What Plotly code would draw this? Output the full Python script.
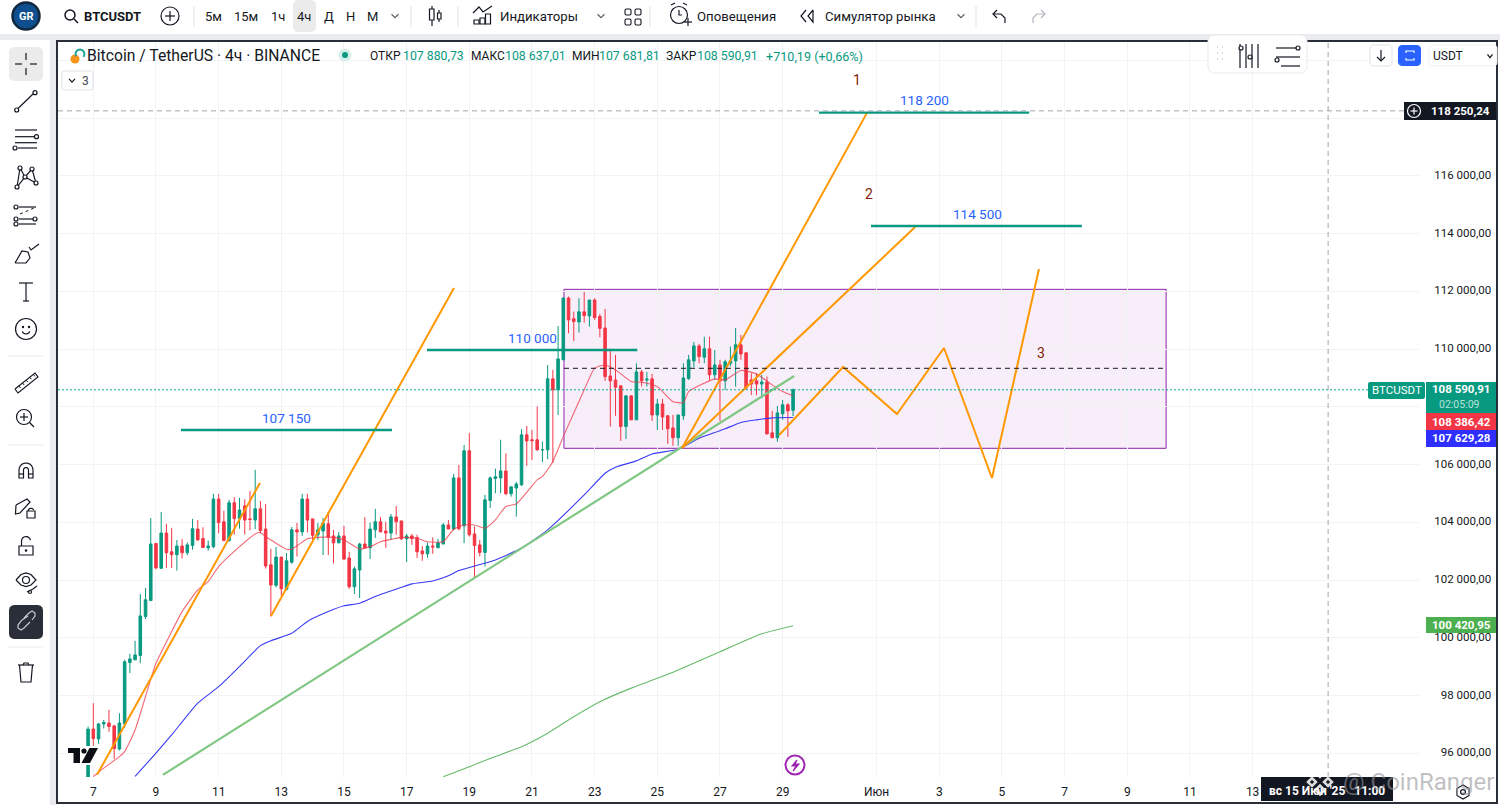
import math
import pandas as pd
import plotly.graph_objects as go

# ---------- data ----------
START = "2025-05-06 20:00"
opens = [94850,96840,96500,97020,97050,96950,96150,97020,99150,99240,99390,100740,101290,103270,102410,103630,102980,102880,103180,102950,
103200,103770,103440,103120,103160,104810,104020,103370,104680,104130,104570,104120,104080,104470,103770,102530,101820,102800,101680,102620,
103740,103670,104810,104120,103570,103700,103950,103530,103290,103530,102770,101770,102350,103250,103120,103740,104020,103700,103630,104190,
104050,103430,103530,103470,103010,102910,103180,103120,103250,103910,103770,105540,103880,106480,103600,103220,102960,104760,105520,105540,
105780,104990,105190,105300,107030,106860,106860,106510,106510,108970,108590,109630,111770,111050,110940,111290,111150,111700,111130,110730,
109070,108930,108730,107320,108380,107550,109210,108930,108970,107720,108100,107690,107270,106930,107690,108980,109590,110110,109720,110010,
109110,109450,108900,109510,109590,110150,109870,108930,108900,108790,108860,107100,106930,107760,108070,107880.73]
highs = [96930,97740,97050,97160,97510,96990,97390,99240,99450,99900,101520,101730,104150,103280,104360,103950,103810,103390,103420,103300,
104120,104080,103830,103370,104990,104990,104400,104780,104870,104850,104800,105090,105820,104740,104640,103080,103150,102800,102940,103840,
103980,104990,104990,104120,103980,104150,104360,103740,103670,103880,102980,102470,103290,104180,103990,104470,104180,104020,104290,104570,
104050,103600,103600,103570,103180,103300,103480,103430,103980,104080,105680,105990,106680,107090,103860,103390,104950,105590,105860,106860,
106390,105240,105400,107230,107340,107200,108010,106800,109450,109280,110800,111770,111820,111300,111760,111980,111700,111760,111220,111390,
110010,109800,108730,108410,108410,109510,109280,109210,109140,108280,108280,107720,107720,107720,109510,109800,110250,110180,110430,110430,
109970,109630,109630,110090,110730,110490,109900,109160,109160,109110,109050,107860,108030,108240,108130,108637.01]
lows = [94790,96260,96330,96860,96750,95800,96100,96880,98780,99240,99120,100650,101290,102380,102400,102420,102420,102330,102750,102860,
103050,103370,103120,103020,103100,103620,103350,103330,103580,103780,103580,103720,103770,103620,102400,100740,101750,101450,101640,102560,
102820,103530,103650,103390,103390,102870,102870,102580,103280,102700,101700,101520,101380,103090,102730,103460,103670,103120,103390,103570,
103390,102630,103220,102770,102670,102770,102910,103120,103250,103770,103720,103720,103280,103510,102080,102820,102470,104500,105010,105010,
104940,104890,104200,105260,105960,106160,106490,106090,106190,106050,107720,109630,110550,110280,110570,110920,110780,111010,110410,108900,
107320,107690,106820,106890,107550,107550,108700,108700,107510,107200,107200,106720,106650,106650,107550,108930,109370,109510,109510,108930,
108930,107510,108590,109400,108700,109630,108590,108410,108410,108300,107060,106930,106790,107550,106960,107681.81]
closes = [96840,96510,97020,97070,96930,96170,97050,99170,99270,99410,100760,101320,103250,102420,103630,102950,102880,103180,102950,103220,
103780,103390,103130,103180,104810,103990,103370,104680,104130,104430,104080,104100,104470,103720,102490,101830,102800,101700,102670,103740,
103670,104810,104080,103550,103740,103970,103480,103290,103530,102730,101770,102390,103250,103120,103770,104020,103670,103630,104190,104020,
103430,103530,103440,102980,102910,103180,103150,103290,103910,103770,105540,103780,106480,103570,103200,102960,104780,105540,105580,105780,
104990,105230,105330,107030,106820,106830,106510,106520,108970,108590,109660,111770,111010,110950,111290,111160,111700,111090,110720,109050,
108900,108680,107320,108380,107550,109210,108900,108960,107720,108100,107650,107240,106930,107720,109000,109630,110110,109740,110010,109110,
109450,108900,109560,109590,110150,109830,108660,108790,108790,108860,107060,106930,107790,108070,107860,108590.91]

red_ma_idx = [1,3,6,7,9,11,13,16,18,21,23,25,29,32,33,34,38,39,42,44,47,49,52,54,56,58,60,63,65,68,70,72,74,76,78,80,82,86,87,89,91,95,97,99,101,104,106,109,112,114,115,118,120,122,125,128,131,133,135]
red_ma = [95200,95490,95890,96060,96810,97970,99120,100220,100910,101660,101950,102470,103160,103600,103650,103510,103070,103070,103430,103480,103480,103390,103080,103160,103330,103410,103480,103450,103330,103330,103760,103910,103910,103800,104090,104550,104640,105470,105590,106110,106970,108590,109340,109450,109280,108880,108850,108700,108180,108150,108530,108820,108970,108930,109260,109140,108760,108530,108386.42]
blue_ma_idx = [9,13,16,21,25,29,33,35,39,42,46,49,52,55,60,62,66,69,71,78,83,88,95,99,101,105,108,113,117,120,122,125,128,131,135]
blue_ma = [95200,96010,96640,97740,98310,99010,99730,99900,100160,100570,100910,101110,101200,101430,101750,101870,101970,102150,102330,102700,103110,103740,104950,105700,105910,106130,106370,106530,106910,107110,107240,107460,107550,107620,107629.28]
green_ma_idx = [68,73,78,83,88,93,98,104,109,113,121,129,135]
green_ma = [95190,95540,95890,96230,96700,97270,97790,98260,98600,98890,99520,100140,100420.95]

orange_a_t = ["2025-05-07 02:50","2025-05-12 07:40"]; orange_a_p = [95257,105367]
orange_b_t = ["2025-05-12 16:05","2025-05-18 12:15"]; orange_b_p = [100757,112116]
orange_c_t = ["2025-05-25 19:00","2025-05-31 16:35"]; orange_c_p = [106575,118180]
orange_d_t = ["2025-05-25 19:00","2025-06-02 05:30"]; orange_d_p = [106575,114228]
zig_t = ["2025-05-28 21:20","2025-05-30 22:20","2025-06-01 15:35","2025-06-03 03:35","2025-06-04 16:20","2025-06-06 04:20"]
zig_p = [107025,109380,107752,110038,105536,112774]
trend_t = ["2025-05-09 05:20","2025-05-29 08:50"]; trend_p = [95257,109068]
levels = [("2025-05-09 19:10","2025-05-16 12:45",107198),
          ("2025-05-17 15:35","2025-05-24 08:40",109970),
          ("2025-05-30 03:50","2025-06-05 20:50",118190),
          ("2025-05-31 19:40","2025-06-07 13:10",114263)]
box_t = ["2025-05-22 00:30","2025-06-10 05:45"]; box_p = [106565,112070]; box_mid = 109335
last_price = 108590.91
cross_price = 118250.24
cross_time = "2025-06-15 09:50"

x_tick_dates = ["2025-05-07","2025-05-09","2025-05-11","2025-05-13","2025-05-15","2025-05-17","2025-05-19","2025-05-21","2025-05-23","2025-05-25","2025-05-27","2025-05-29","2025-06-01","2025-06-03","2025-06-05","2025-06-07","2025-06-09","2025-06-11","2025-06-13"]
x_tick_text = ["7","9","11","13","15","17","19","21","23","25","27","29","Июн","3","5","7","9","11","13"]
y_tick_vals = [96000,98000,100000,102000,104000,106000,108000,110000,112000,114000,116000,118000,120000]
y_tick_text = ["\u200796 000,00","\u200798 000,00","100 000,00","102 000,00","104 000,00","106 000,00","108 000,00","110 000,00","112 000,00","114 000,00","116 000,00","",""]

# ---------- figure ----------
times = pd.date_range(START, periods=len(opens), freq="4h")
UP, DOWN = "#089981", "#F23645"
FONT = "Roboto"
INK = "#131722"
L, R, T, B = 58, 1419, 42, 777
PX = lambda x: (x - L) / (R - L)
PY = lambda y: (B - y) / (B - T)

fig = go.Figure()
fig.add_trace(go.Candlestick(x=times, open=opens, high=highs, low=lows, close=closes,
    increasing=dict(line=dict(color=UP, width=1), fillcolor=UP),
    decreasing=dict(line=dict(color=DOWN, width=1), fillcolor=DOWN),
    whiskerwidth=0, hoverinfo="skip"))
def ma(idx, vals, color):
    fig.add_trace(go.Scatter(x=[times[i] for i in idx], y=vals, mode="lines",
                             line=dict(color=color, width=1.1, shape="spline", smoothing=0.5), hoverinfo="skip"))
ma(green_ma_idx, green_ma, "#66BB6A")
ma(blue_ma_idx, blue_ma, "#3A3AF5")
ma(red_ma_idx, red_ma, "rgba(242,54,69,0.75)")
def seg(t, p, color, w=2):
    fig.add_trace(go.Scatter(x=t, y=p, mode="lines", line=dict(color=color, width=w), hoverinfo="skip"))
seg(trend_t, trend_p, "#81C784", 2.2)
for t, p in [(orange_a_t, orange_a_p), (orange_b_t, orange_b_p), (orange_c_t, orange_c_p), (orange_d_t, orange_d_p), (zig_t, zig_p)]:
    seg(t, p, "#FF9800", 2)
for a, b, p in levels:
    seg([a, b], [p, p], UP, 2.4)

shapes = []
ann = []
def sline(pts, color=INK, w=1.2, fill=None, close=False, dash=None):
    d = "M " + " L ".join(f"{PX(x):.5f} {PY(y):.5f}" for x, y in pts) + (" Z" if close else "")
    s = dict(type="path", path=d, xref="paper", yref="paper", line=dict(color=color, width=w, dash=dash or "solid"), layer="above")
    if fill:
        s["fillcolor"] = fill
    shapes.append(s)
def srect(x0, y0, x1, y1, fill=None, line=None, w=1, rad=0):
    if rad:
        pts = []
        for cx, cy, a0 in [(x1-rad, y0+rad, -90), (x1-rad, y1-rad, 0), (x0+rad, y1-rad, 90), (x0+rad, y0+rad, 180)]:
            pts += [(cx+rad*math.cos(math.radians(a0+k*30)), cy+rad*math.sin(math.radians(a0+k*30))) for k in range(4)]
        d = "M " + " L ".join(f"{PX(x):.5f} {PY(y):.5f}" for x, y in pts) + " Z"
        shapes.append(dict(type="path", path=d, xref="paper", yref="paper", fillcolor=fill or "rgba(0,0,0,0)",
                           line=dict(color=line or "rgba(0,0,0,0)", width=w), layer="above"))
    else:
        shapes.append(dict(type="rect", xref="paper", yref="paper", x0=PX(x0), x1=PX(x1), y0=PY(y0), y1=PY(y1),
                           fillcolor=fill or "rgba(0,0,0,0)", line=dict(color=line or "rgba(0,0,0,0)", width=w if line else 0), layer="above"))
def scirc(cx, cy, r, fill=None, line=INK, w=1.2):
    shapes.append(dict(type="circle", xref="paper", yref="paper", x0=PX(cx-r), x1=PX(cx+r), y0=PY(cy+r), y1=PY(cy-r),
                       fillcolor=fill or "rgba(0,0,0,0)", line=dict(color=line, width=w), layer="above"))
def arc(cx, cy, r, a0, a1, n=10, **k):
    sline([(cx+r*math.cos(math.radians(a0+(a1-a0)*i/n)), cy+r*math.sin(math.radians(a0+(a1-a0)*i/n))) for i in range(n+1)], **k)
def text(x, y, s, size=13, color=INK, anchor="left", bold=False, family=FONT):
    ann.append(dict(x=PX(x), y=PY(y), xref="paper", yref="paper", text=f"<b>{s}</b>" if bold else s, showarrow=False,
                    xanchor=anchor, yanchor="middle", font=dict(family=family, size=size, color=color), borderpad=0, borderwidth=0))

# pattern rectangle and dashed midline
shapes.append(dict(type="rect", xref="x", yref="y", x0=box_t[0], x1=box_t[1], y0=box_p[0], y1=box_p[1],
                   fillcolor="rgba(156,39,176,0.08)", line=dict(color="#8E24AA", width=1), layer="below"))
shapes.append(dict(type="line", xref="x", yref="y", x0=box_t[0], x1=box_t[1], y0=box_mid, y1=box_mid,
                   line=dict(color=INK, width=1, dash="5px,4px"), layer="above"))
shapes.append(dict(type="line", xref="paper", yref="y", x0=0, x1=1, y0=last_price, y1=last_price,
                   line=dict(color="#0BAA8F", width=1, dash="2px,2px"), layer="above"))
shapes.append(dict(type="line", xref="paper", yref="y", x0=0, x1=1, y0=cross_price, y1=cross_price,
                   line=dict(color="#8a8e99", width=0.8, dash="5px,4px"), layer="above"))
shapes.append(dict(type="line", xref="x", yref="paper", x0=cross_time, x1=cross_time, y0=0, y1=1,
                   line=dict(color="#8a8e99", width=0.8, dash="5px,4px"), layer="above"))

# drawing labels
for x, y, s in [(286,418,"107 150"),(532,338,"110 000"),(924,100,"118 200"),(977,214,"114 500")]:
    text(x, y, s, 13.5, "#2962FF", "center")
for x, y, s in [(857,80,"1"),(869,194,"2"),(1041,353,"3")]:
    text(x, y, s, 14, "#7F1F0A", "center")

# chrome backgrounds
srect(0, 0, 1500, 34, fill="#FFFFFF")
srect(0, 34, 1500, 40, fill="#E9EBEF")
srect(0, 40, 50, 805, fill="#FFFFFF")
srect(50, 40, 56, 805, fill="#E9EBEF")
srect(57, 41, 1497, 803, line="#2A2E39", w=2)

# top toolbar
scirc(26, 16, 13.5, fill="#0F4F8F", line="#12283F", w=2.5)
text(26, 16, "GR", 11, "#FFFFFF", "center", True)
scirc(70, 15, 5, w=1.5); sline([(74,19),(78,23)], w=1.5)
text(84, 16, "BTCUSDT", 13, INK, bold=True)
scirc(170, 16, 9); sline([(165,16),(175,16)]); sline([(170,11),(170,21)])
for x in [194, 411, 458, 650, 976]:
    sline([(x,6),(x,27)], color="#E0E3EB", w=1)
srect(293, 0, 316, 32, fill="#EBEBEB", rad=5)
for x, s in [(213,"5м"),(246,"15м"),(278,"1ч"),(304,"4ч"),(329,"Д"),(350,"Н"),(372,"М")]:
    text(x, 16, s, 13, INK, "center")
def chev(x, y, s=3.5, **k):
    sline([(x-s,y-1.7),(x,y+1.7),(x+s,y-1.7)], **k)
for x in [395, 601, 961]:
    chev(x, 16, color="#5d606b")
srect(429.5, 9, 434, 20, line=INK, w=1.2); sline([(432,6),(432,9)]); sline([(432,20),(432,26)])
srect(437.5, 13, 441, 19, line=INK, w=1.2); sline([(439,10),(439,13)]); sline([(439,19),(439,22)])
sline([(473,13),(479,7),(483,12),(492,6)])
for a, b in [(474,20),(480,18),(485.5,14)]:
    srect(a, b, a+5, 24, line=INK, w=1.2)
text(500, 16, "Индикаторы", 13.2)
for a in [626, 636]:
    for b in [10, 20]:
        srect(a-1, b-1, a+5, b+5, line=INK, w=1.1, rad=1.5)
scirc(679, 15, 8.5); sline([(679,10),(679,15),(682,15)])
sline([(684,22),(692,22)]); sline([(688,18),(688,26)])
sline([(671,5),(675,3)]); sline([(683,3),(687,5)])
text(697, 16, "Оповещения", 13.2)
sline([(806,10),(801,16),(806,22)]); sline([(813,10),(808,16),(813,22),(813,10)])
text(825, 16, "Симулятор рынка", 13.2)
sline([(994,14),(1001,14),(1005,18),(1005,23)]); sline([(997,10),(993,14),(997,18)])
sline([(1044,14),(1037,14),(1033,18),(1033,23)], color="#B2B5BE"); sline([(1041,10),(1045,14),(1041,18)], color="#B2B5BE")

# left toolbar
srect(9, 47, 43, 81, fill="#EBEBEB", rad=5)
for p in [[(15,64),(22,64)],[(30,64),(37,64)],[(26,53),(26,60)],[(26,68),(26,75)]]:
    sline(p)
sline([(18,108.5),(33,94)]); scirc(16.7,110,2); scirc(35,92.7,2)
for y, a, b in [(130,15,37),(136.7,15,34),(142.7,15,37),(148,18,37)]:
    sline([(a,y),(b,y)])
scirc(36.5,136.7,2,fill="#fff"); scirc(15,148,2,fill="#fff")
sline([(17,187),(20,168),(25,177),(32,169),(36,183),(25,177),(17,187)])
for p in [(17,187),(20,168),(25,177),(32,169),(36,183)]:
    scirc(p[0],p[1],2,fill="#fff")
for y in [207,219,224]:
    sline([(19,y),(36,y)])
    scirc(16,y,2,fill="#fff")
scirc(35,219,2,fill="#fff")
sline([(20,214),(34,208)], dash="dot", w=1)
sline([(15,263),(22,251),(28,252),(30,258),(26,263),(15,263)])
sline([(29,247),(31,250),(39,244)])
sline([(19,283),(33,283)]); sline([(26,283),(26,301)]); sline([(23,301),(29,301)])
scirc(26,329,10.5); scirc(23,327,0.6); scirc(29,327,0.6); arc(26,330,4,20,160,6)
sline([(15,389),(35,373),(38,377),(18,393),(15,389)])
for i in range(5):
    x = 19+i*3.6; y = 386-i*2.9
    sline([(x,y),(x+1.6,y+2)], w=1)
scirc(24,417,7.5); sline([(29.5,422.5),(34,427)]); sline([(20,417),(28,417)]); sline([(24,413),(24,421)])
arc(26,470,7,180,360); arc(26,470,2.5,180,360)
sline([(19,470),(19,478),(23.5,478),(23.5,470)]); sline([(33,470),(33,478),(28.5,478),(28.5,470)])
sline([(19,474),(23.5,474)]); sline([(28.5,474),(33,474)])
sline([(16,505),(27,499),(30,502),(20,513),(15.5,514),(16,505)])
srect(27,511,35,518,line=INK,w=1.2); arc(31,511,2.8,180,340,6)
srect(19,546,33,555,line=INK,w=1.2); arc(26,541,4.5,180,350,8); sline([(21.5,541),(21.5,546)]); scirc(26,550.5,0.7)
sline([(16,580),(21,574.5),(26,573),(31,574.5),(36,580),(31,585),(26,586.5),(21,585),(16,580)]); scirc(26,580,3.5)
sline([(27,592),(33,589),(37,586)]); scirc(30,592,1.5)
srect(9, 605, 43, 639, fill="#2A2E39", rad=5)
sline([(24,618),(29,613),(32,611),(35,613),(35,616),(32,620)], color="#C7C9CF")
sline([(28,616),(22,620),(18,625),(18,628),(21,630),(24,628),(30,622)], color="#C7C9CF")
sline([(18,665),(34,665)]); sline([(23,665),(24,663),(28,663),(29,665)])
sline([(19.5,665),(21,682),(31,682),(32.5,665)])
for y in [356, 445, 647]:
    sline([(8,y),(44,y)], color="#E9EBEF", w=1)

# legend row
scirc(75,59,4.5,fill="#F7931A",line="#F7931A",w=0)
arc(80,54,4.5,150,400,8,color="#26A69A",w=2)
text(87, 55.5, "Bitcoin / TetherUS · 4ч · BINANCE", 15.7)
scirc(345,55,6.5,fill="#D7EFEB",line="#D7EFEB",w=0); scirc(345,55,3,fill=UP,line=UP,w=0)
for x, s in [(370,"ОТКР"),(471,"МАКС"),(572,"МИН"),(666,"ЗАКР")]:
    text(x, 56, s, 12)
for x, v in [(403,"107 880,73"),(505,"108 637,01"),(599,"107 681,81"),(697,"108 590,91")]:
    text(x, 56, v, 12.3, UP)
text(766, 56, "+710,19 (+0,66%)", 12.6, UP)
srect(62, 71, 93, 90, fill="#FFFFFF", line="#E0E3EB", rad=2)
chev(72, 80.5, 3); text(82, 80.5, "3", 12, "#434651")

# floating panel and top right buttons
srect(1208, 35, 1307, 73, fill="#FFFFFF", line="#E9EBEF", rad=6)
for dx in (0, 5):
    for y in (47, 53, 59):
        sline([(1217+dx,y),(1218+dx,y)], color="#C8CAD0", w=1.5)
sline([(1240,44),(1240,68)]); sline([(1246,44),(1246,68)]); sline([(1252,44),(1252,68)]); sline([(1258,44),(1258,68)])
scirc(1241,48,2,fill="#fff"); scirc(1250,57,2,fill="#fff")
for y, a, b in [(48,1276,1298),(57,1276,1300),(66,1281,1300)]:
    sline([(a,y),(b,y)])
scirc(1298,48,2,fill="#fff"); scirc(1277,60,2,fill="#fff")
srect(1370, 45, 1392, 66, fill="#FFFFFF", line="#E0E3EB", rad=3)
sline([(1381,50),(1381,61)]); sline([(1377,57),(1381,61),(1385,57)])
srect(1398, 45, 1421, 66, fill="#2962FF", rad=4)
sline([(1406,53),(1406,51),(1414,51),(1414,53)], color="#FFF"); sline([(1406,58),(1406,60),(1414,60),(1414,58)], color="#FFF")
srect(1429, 45, 1497, 66, fill="#FFFFFF", line="#EEF0F3", rad=3)
text(1433, 55.5, "USDT", 12, INK)
chev(1490, 56, 2.5)

# price labels
def plabel(x0, y0, x1, y1, fill, s, size=11.5, color="#FFFFFF", bold=True):
    srect(x0, y0, x1, y1, fill=fill)
    text((x0+x1)/2, (y0+y1)/2, s, size, color, "center", bold)
srect(1368, 382, 1425, 399, fill=UP, rad=2)
text(1396.5, 390.5, "BTCUSDT", 11.5, "#FFFFFF", "center")
srect(1426, 382, 1496, 413, fill=UP)
text(1461, 389, "108 590,91", 11.5, "#FFFFFF", "center", True)
text(1459, 404.5, "02:05:09", 10.5, "#B9E5DB", "center")
plabel(1426, 413, 1496, 430, "#F23645", "108 386,42")
plabel(1426, 430, 1496, 447, "#2E2EFF", "107 629,28")
plabel(1426, 617, 1496, 633, "#4CAF50", "100 420,95")
srect(1404, 102, 1424, 120, fill=INK)
scirc(1414, 111, 6.5, line="#FFFFFF"); sline([(1410.5,111),(1417.5,111)], color="#FFF"); sline([(1414,107.5),(1414,114.5)], color="#FFF")
plabel(1424, 102, 1496, 120, INK, "118 250,24")

# bottom items
srect(1261, 777, 1393, 801, fill=INK)
text(1327, 790.5, "вс 15 Июн '25&nbsp;&nbsp;&nbsp;11:00", 12, "#FFFFFF", "center", True)
pts = [(1463+7*math.cos(math.radians(a)), 792+7*math.sin(math.radians(a))) for a in range(30, 390, 60)]
sline(pts, close=True, w=1.1); scirc(1463, 792, 2.4)
scirc(795, 765, 9.5, fill="#FFFFFF", line="#9C27B0", w=2)
sline([(797,760),(792,766),(796,766),(793,771),(799,764),(795,764)], color="#9C27B0", w=1.2, fill="#9C27B0", close=True)

# TradingView mark
srect(66, 746, 99, 765, fill="#FFFFFF")
sline([(68,748),(80,748),(80,763),(73.5,763),(73.5,753),(68,753)], color="#0b0e14", w=0, fill="#0b0e14", close=True)
scirc(84, 751, 2.6, fill="#0b0e14", line="#0b0e14", w=0)
sline([(89.5,748),(98,748),(90,763),(81.5,763)], color="#0b0e14", w=0, fill="#0b0e14", close=True)

# watermark
wm = "rgba(150,150,155,0.6)"
for cx, cy, r in [(1320,773,4),(1312,782,4),(1328,782,4),(1320,790,4.5)]:
    sline([(cx-r,cy),(cx,cy-r),(cx+r,cy),(cx,cy+r)], color="rgba(255,255,255,0.85)", w=2.5, close=True)
text(1343, 782, "@ CoinRanger", 24, wm)

fig.update_layout(
    width=1500, height=805, autosize=False, showlegend=False,
    margin=dict(l=L, r=1500-R, t=T, b=805-B, pad=0),
    paper_bgcolor="#FFFFFF", plot_bgcolor="#FFFFFF",
    shapes=shapes, annotations=ann, hovermode=False, dragmode=False,
    xaxis=dict(type="date", range=["2025-05-05 20:57","2025-06-18 07:26"], rangeslider=dict(visible=False),
               tickmode="array", tickvals=x_tick_dates, ticktext=x_tick_text, showgrid=True, gridcolor="#F2F3F5", gridwidth=1,
               zeroline=False, showline=False, ticks="outside", ticklen=4, tickcolor="#FFFFFF",
               tickfont=dict(family=FONT, size=12, color=INK), automargin=False),
    yaxis=dict(side="right", range=[95182,120635], tickmode="array", tickvals=y_tick_vals, ticktext=y_tick_text,
               showgrid=True, gridcolor="#F2F3F5", gridwidth=1, zeroline=False, showline=False, ticks="outside", ticklen=12,
               tickcolor="rgba(0,0,0,0)", tickfont=dict(family=FONT, size=11.5, color=INK), automargin=False, ticklabelshift=-1),
)
fig.write_html("out.html", config=dict(displayModeBar=False), post_script="document.body.style.margin='0';document.body.style.overflow='hidden';")
